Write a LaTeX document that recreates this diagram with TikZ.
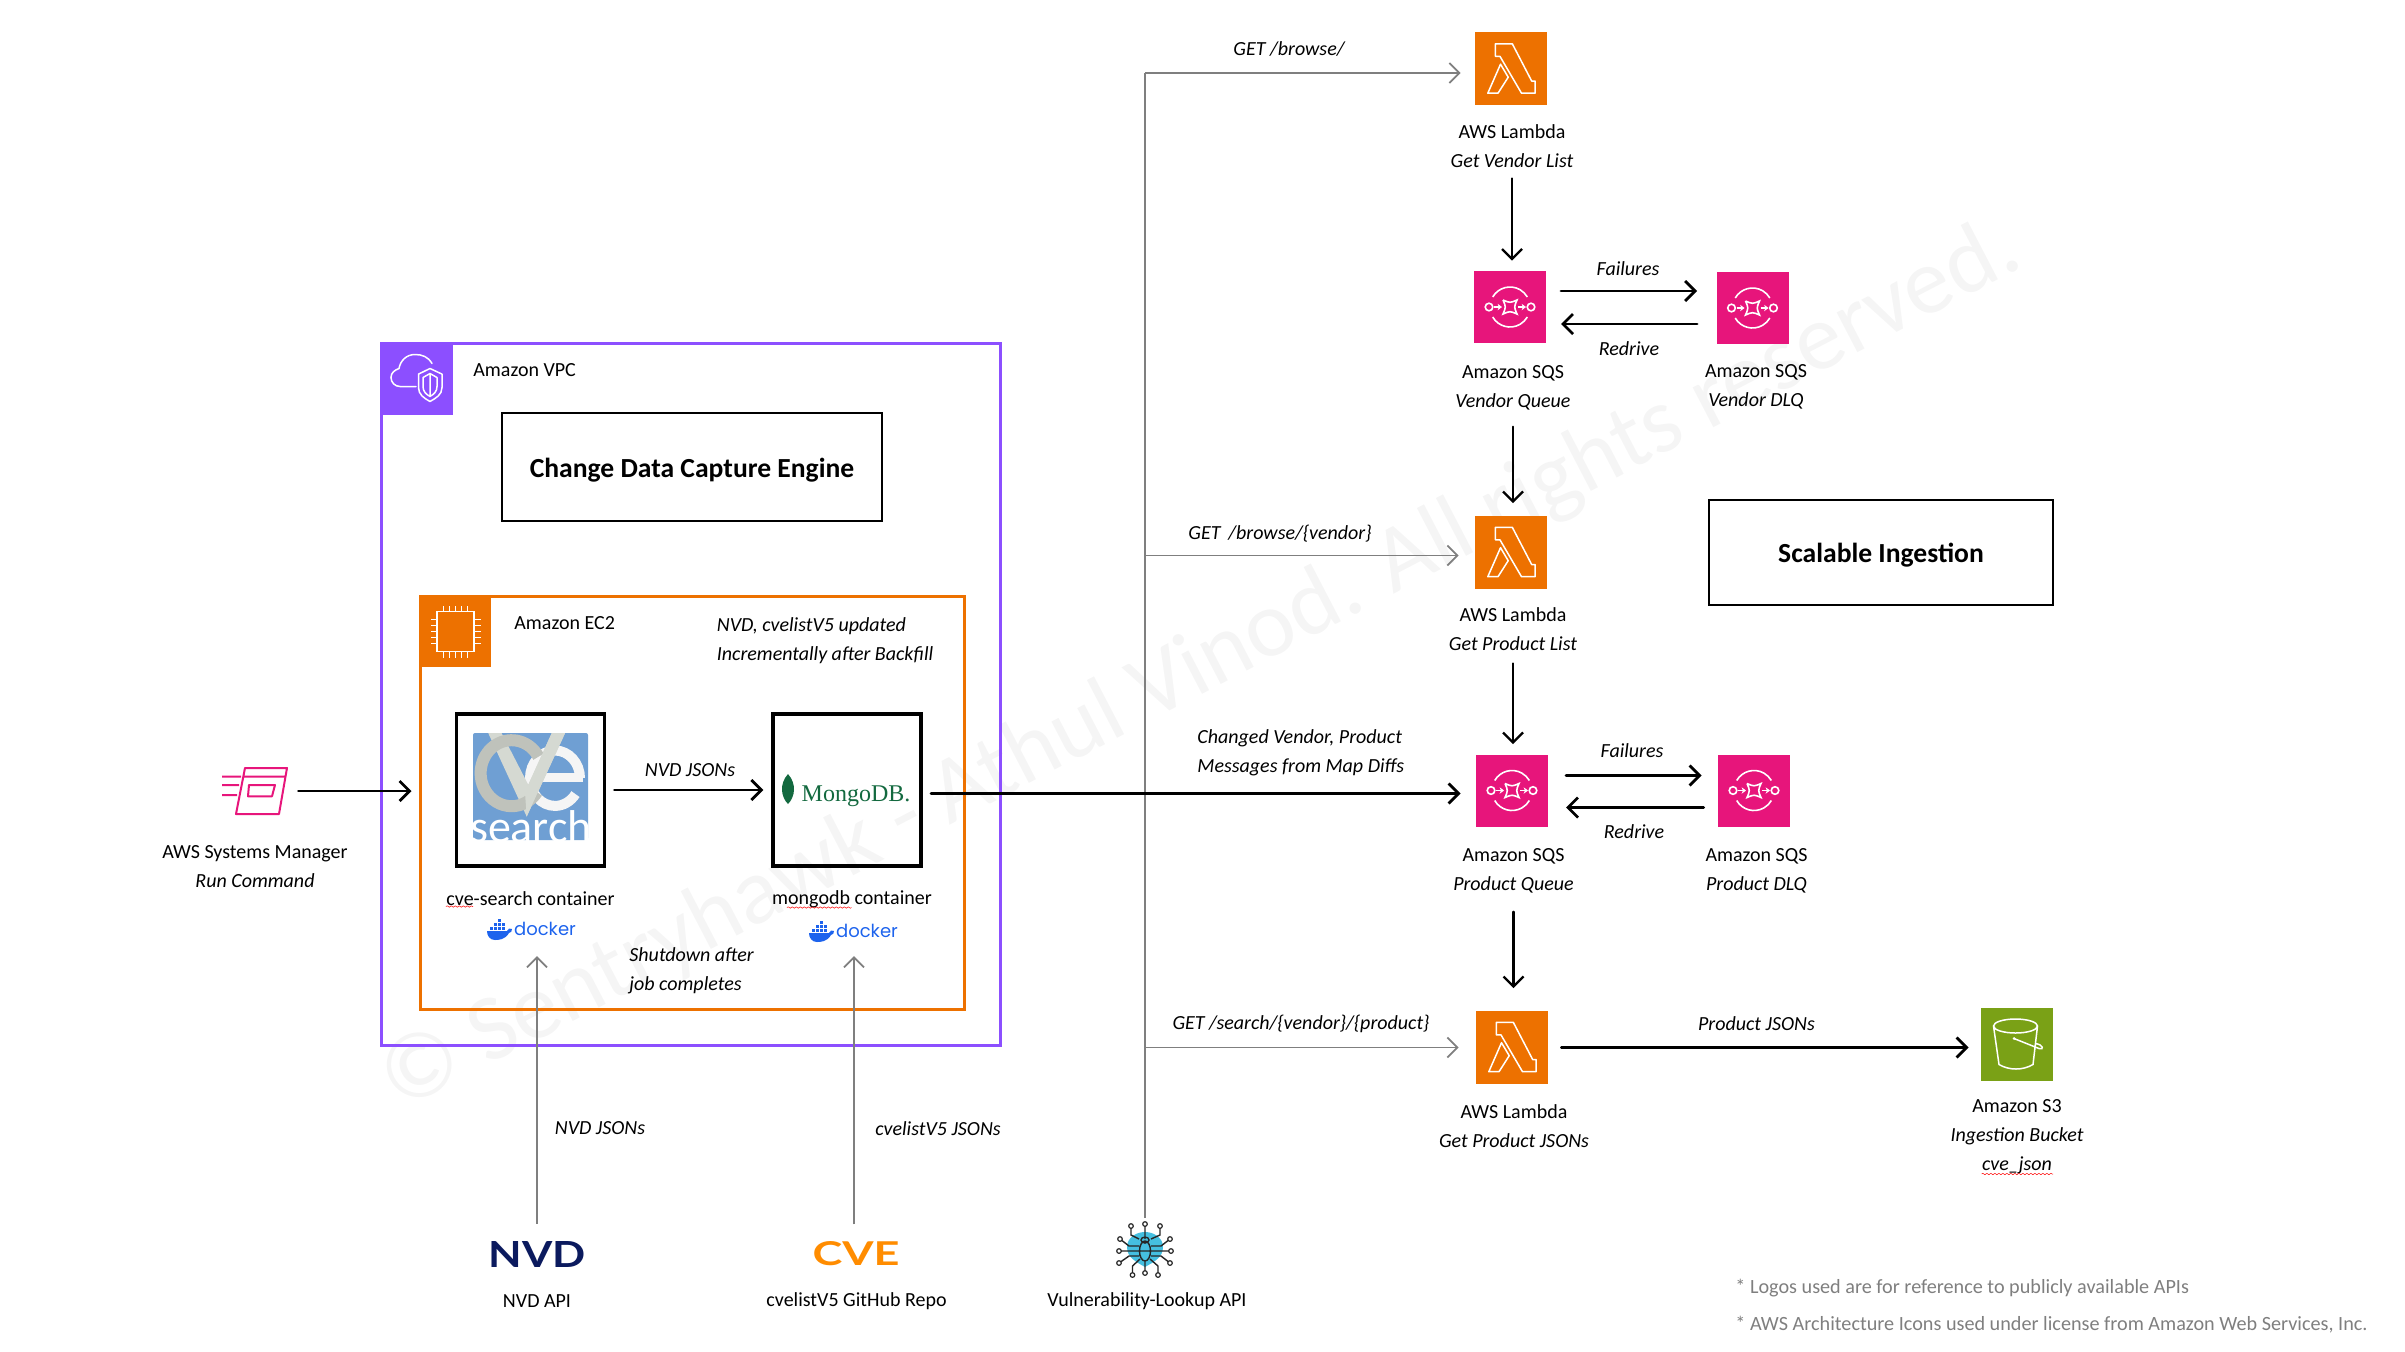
\documentclass[tikz,border=0pt]{standalone}
\usepackage{fontspec}
\setmainfont{Carlito}
\usetikzlibrary{arrows.meta}
\usetikzlibrary{decorations.pathmorphing}
\definecolor{awsorange}{HTML}{ED7100}
\definecolor{awspink}{HTML}{E7157B}
\definecolor{awspurple}{HTML}{8C4FFF}
\definecolor{awsgreen}{HTML}{7AA116}
\definecolor{apigrey}{HTML}{7F7F7F}
\definecolor{cveblue}{HTML}{6F9FD3}
\definecolor{cvering}{HTML}{BFC2BB}
\definecolor{cvevee}{HTML}{D5D9D2}
\definecolor{dockerblue}{HTML}{1D63ED}
\definecolor{mongogreen}{HTML}{13693F}
\definecolor{nvdnavy}{HTML}{0B1A5E}
\definecolor{bugblue}{HTML}{45BFE0}
\tikzstyle{lambda box}=[fill=awsorange, minimum width=36pt, minimum height=36.5pt, inner sep=0]
\tikzstyle{sqs box}=[fill=awspink, minimum width=36pt, minimum height=36pt, inner sep=0]
\tikzstyle{title box}=[draw, line width=1pt, inner sep=0, font=\fontsize{13.8}{15}\selectfont\bfseries]
\tikzstyle{container}=[draw, line width=1.6pt, inner sep=0, minimum width=74pt, minimum height=76pt]
\tikzstyle{caption}=[inner sep=0, align=center, font=\fontsize{10}{14.5}\selectfont]
\tikzstyle{note}=[inner sep=0, align=left, font=\fontsize{10}{14.5}\selectfont\itshape]
\tikzstyle{flow}=[line width=1.4pt, line cap=round, -{Straight Barb[length=5pt, width=10pt, line width=1.4pt]}]
\tikzstyle{down flow}=[line width=1.15pt, line cap=round, -{Straight Barb[length=5pt, width=10pt, line width=1.15pt]}]
\tikzstyle{api}=[line width=0.9pt, apigrey, -{Straight Barb[length=5pt, width=10pt, line width=0.9pt]}]
\tikzstyle{squiggle}=[red, line width=0.25pt, decorate, decoration={snake, amplitude=0.35pt, segment length=2pt}]
\tikzset{
  lambda glyph/.pic={
    \draw[white, line width=0.75pt, line join=round]
      (-15.6,-24.7) -- (1.3,-24.7) -- (20.7,12.6) -- (24.2,12.6) -- (24.2,24.7) -- (10.5,24.7)
      -- (-11,-12.1) -- (-15.6,-12.1) -- cycle
      (-23.2,24.7) -- (-10.5,-4.3) -- (-2.8,8.7) -- (-13,24.7) -- cycle;
  },
  sqs glyph/.pic={
    \draw[white, line width=0.8pt]
      (-21,0) circle[radius=3.8] (21,0) circle[radius=3.8]
      (-17.3,-10) arc[start angle=210, end angle=330, radius=20]
      (-17.3,10) arc[start angle=150, end angle=30, radius=20]
      (-7,-7) .. controls (0,-4) .. (7,-7) .. controls (4,0) .. (7,7)
      .. controls (0,4) .. (-7,7) .. controls (-4,0) .. (-7,-7);
    \draw[white, line width=0.8pt, -{Stealth[length=2.2pt, width=3.2pt]}] (-16,0) -- (-8,0);
    \draw[white, line width=0.8pt, -{Stealth[length=2.2pt, width=3.2pt]}] (8,0) -- (16,0);
  },
  bucket glyph/.pic={
    \draw[white, line width=0.75pt]
      (-1.5,-18.5) ellipse[x radius=22, y radius=7]
      (-23.5,-18.5) -- (-18,20) .. controls (-8,26) and (6,26) .. (16,20) -- (20.5,-18.5)
      (-3,-6) -- (22,4) .. controls (27,6) and (27,0) .. (18,-1);
    \fill[white] (-3,-6) circle[radius=1.5];
  },
  chip glyph/.pic={
    \draw[white, line width=0.9pt] (-18.5,-20) rectangle (18.5,20);
    \foreach \p in {-12,-6,0,6,12} {
      \draw[white, line width=0.7pt] (\p,-20) -- (\p,-26) (\p,20) -- (\p,26)
        (-18.5,\p) -- (-25,\p) (18.5,\p) -- (25,\p);
    }
  },
  vpc glyph/.pic={
    \draw[white, line width=0.75pt, line cap=round]
      (-1,8) -- (-17,8) to[out=180, in=270] (-26,-1) to[out=90, in=200] (-18,-10)
      to[out=80, in=180] (-2,-24) to[out=0, in=120] (15,-15);
    \draw[white, line width=0.75pt, line join=round]
      (13,-10) -- (25,-4.4) -- (25,9) to[out=270, in=30] (13,23) to[out=150, in=270] (1.5,9)
      -- (1.5,-4.4) -- cycle
      (13,-5) -- (20,-1) -- (20,8) to[out=270, in=30] (13,18) to[out=150, in=270] (6,8)
      -- (6,-1) -- cycle
      (13,-5) -- (13,18);
  },
  ssm glyph/.pic={
    \draw[awspink, line width=1pt, line join=round]
      (-9,-23) -- (33,-23) -- (25,23) -- (-18,23) -- cycle
      (-10,-14.5) -- (31,-14.5)
      (-5,-6) -- (21,-6) -- (18,5.3) -- (-6,5.3) -- cycle
      (-32,-14.5) -- (-13,-14.5) (-32,-6) -- (-15,-6) (-32,4) -- (-17,4);
  },
  docker mark/.pic={
    \fill[dockerblue] (-12,1) -- (8,1) .. controls (9,-1) and (11,-3) .. (13,-1) .. controls (13,1) and (12,3) .. (10,3)
      .. controls (6,10) and (-1,10) .. (-4,10) .. controls (-9,10) and (-12,6) .. (-12,1);
    \foreach \p/\q in {-9/-3, -5/-3, -1/-3, 3/-3, -5/-7, -1/-7, 3/-7, -1/-11} {
      \fill[dockerblue] (\p,\q) rectangle +(3.2,3.2);
    }
  },
  leaf glyph/.pic={
    \fill[mongogreen] (0,-15) .. controls (9,-5) and (7,8) .. (0,15) .. controls (-7,8) and (-9,-5) .. (0,-15);
  },
  bug glyph/.pic={
    \fill[bugblue] (0,-17) to[out=0, in=90] (18,-2) to[out=270, in=30] (0,18) to[out=150, in=270]
      (-18,-2) to[out=90, in=180] cycle;
    \draw[black!85, line width=0.7pt]
      (-14,-23) -- (-14,-14) -- (-6,-10) (0,-25) -- (0,-10) (15,-23) -- (15,-14) -- (6,-10)
      (-12.5,26) -- (-12.5,17) -- (-5,10) (0,24) -- (0,12) (13,26) -- (13,17) -- (5,10)
      (-25,-10) -- (-16,-3) -- (-6,-3) (25,-10) -- (16,-3) -- (6,-3)
      (-26,2) -- (26,2)
      (-26,14) -- (-16,7) -- (-6,7) (25,14) -- (16,7) -- (6,7)
      (0,2) ellipse[x radius=5.5, y radius=10]
      (0,-9) ellipse[x radius=4, y radius=3];
    \foreach \p/\q in {-14/-23, 0/-25, 15/-23, -12.5/26, 0/24, 13/26, -25/-10, 25/-10, -26/2, 26/2, -26/14, 25/14} {
      \draw[black!85, fill=white, line width=0.6pt] (\p,\q) circle[radius=2.3];
    }
  },
  cve art/.pic={
    \draw[white!92!gray, line width=5pt] (49.5,-8.3) arc[start angle=0, end angle=-325, x radius=25, y radius=27.7];
    \draw[white!92!gray, line width=4.5pt] (-2,-9) -- (52,-9);
    \fill[cvevee] (-42.2,-53.3) -- (-3.8,30) -- (34.5,-53.3) -- (21.2,-53.3) -- (-2.2,-1.7) -- (-28.8,-53.3) -- cycle;
    \draw[cvering, line width=6pt] (8,-29.8) arc[start angle=-30, end angle=-325, x radius=31, y radius=33];
    \fill[cvevee] (-3.8,30) -- (34.5,-53.3) -- (21.2,-53.3) -- (-2.2,-1.7) -- (-6,-1) -- cycle;
  }
}
\begin{document}
\begin{tikzpicture}[x=0.5pt, y=-0.5pt]
  \useasboundingbox (0,0) rectangle (2405,1351);
  \node[rotate=27.5, text=black!4, inner sep=0, font=\fontsize{47}{50}\selectfont] (watermark) at (1201,667)
    {© Sentryhawk - Athul Vinod. All rights reserved.};

  \node[draw=awspurple, line width=1.5pt, minimum width=309.5pt, minimum height=351pt, inner sep=0] (vpc) at (690.5,694) {};
  \node[fill=awspurple, minimum width=36pt, minimum height=36pt, inner sep=0] (vpc_icon) at (417,378.5) {};
  \pic at (vpc_icon) {vpc glyph};
  \node[caption, anchor=west] (vpc_text) at (473,370) {Amazon VPC};
  \node[title box, minimum width=190pt, minimum height=54pt] (cdc) at (692,467) {};
  \node[inner sep=0, font=\fontsize{13.8}{15}\selectfont\bfseries] (cdc_text) at (692,470) {Change Data Capture Engine};

  \node[draw=awsorange, line width=1.5pt, minimum width=272pt, minimum height=206.5pt, inner sep=0] (ec2) at (692,802.5) {};
  \node[fill=awsorange, minimum width=35.5pt, minimum height=35.5pt, inner sep=0] (ec2_icon) at (455.5,631.5) {};
  \pic at (ec2_icon) {chip glyph};
  \node[caption, anchor=west] (ec2_text) at (514,623) {Amazon EC2};
  \node[note, anchor=west] (backfill_text) at (716.5,640.5) {NVD, cvelistV5 updated\\Incrementally after Backfill};

  \node[container] (cve) at (530.75,790) {};
  \node[fill=cveblue, rounded corners=1pt, minimum width=57.5pt, minimum height=53.5pt, inner sep=0] (cve_logo) at (530.5,786.5) {};
  \begin{scope}
    \clip (cve_logo.north west) rectangle (cve_logo.south east);
    \pic at (cve_logo) {cve art};
  \end{scope}
  \node[inner sep=0, text=white, font=\fontsize{23}{23}\selectfont] (cve_word) at (531,827) {search};
  \node[caption] (cve_text) at (530.5,898.5) {cve-search container};
  \draw[squiggle] (446,906.5) -- (473,906.5);
  \coordinate (cve_dock) at (499,930);
  \pic at (cve_dock) {docker mark};
  \node[inner sep=0, text=dockerblue, font=\fontsize{9}{9}\selectfont\fontspec{Poppins}] (cve_docker) at (545,929) {docker};

  \node[container] (mongo) at (847,790) {};
  \coordinate (leaf) at (788,789);
  \pic at (leaf) {leaf glyph};
  \node[inner sep=0, text=mongogreen, font=\fontsize{12}{12}\selectfont\fontspec{Liberation Serif}] (mongo_word) at (856,796) {MongoDB.};
  \node[caption] (mongo_text) at (852,899.5) {mongodb container};
  \draw[squiggle] (787,907.5) -- (851.5,907.5);
  \coordinate (mongo_dock) at (821,932);
  \pic at (mongo_dock) {docker mark};
  \node[inner sep=0, text=dockerblue, font=\fontsize{9}{9}\selectfont\fontspec{Poppins}] (mongo_docker) at (867,931) {docker};
  \node[note, anchor=west] (shutdown_text) at (629,971) {Shutdown after\\job completes};

  \node[minimum width=44pt, minimum height=24pt, inner sep=0] (ssm) at (254,791) {};
  \pic at (ssm) {ssm glyph};
  \node[caption] (ssm_text) at (255,867) {AWS Systems Manager\\\textit{Run Command}};
  \draw[flow, shorten >=3.5pt] (ssm.east) -- (ssm.east -| ec2.west);

  \draw[flow, shorten >=4pt, shorten <=4pt] (cve.east) -- (mongo.west);
  \node[note] (cve_mongo_text) at (690,770.5) {NVD JSONs};

  \coordinate (nvd_tip) at (537,956);
  \coordinate (cvelist_tip) at (854,956);
  \node[inner sep=0, text=nvdnavy] (nvd) at (537,1254) {\resizebox{48.5pt}{13pt}{\fontspec{Lato}\bfseries NVD}};
  \node[caption] (nvd_text) at (537,1301.5) {NVD API};
  \draw[api, shorten <=8.5pt] (nvd.north) -- (nvd_tip);
  \node[inner sep=0, text=orange!90!yellow] (cvelist) at (856,1254) {\resizebox{43.5pt}{12pt}{\fontspec{Lato}\bfseries CVE}};
  \node[caption] (cvelist_text) at (856.5,1301.5) {cvelistV5 GitHub Repo};
  \draw[api, shorten <=8.5pt] (cvelist.north -| cvelist_tip) -- (cvelist_tip);
  \node[note] (nvd_api_text) at (600,1128.5) {NVD JSONs};
  \node[note] (cvelist_api_text) at (938,1128.5) {cvelistV5 JSONs};

  \node[minimum size=20pt, inner sep=0] (bug) at (1145,1249) {};
  \pic at (bug) {bug glyph};
  \node[caption] (bug_text) at (1147,1301.5) {Vulnerability-Lookup API};

  \coordinate (trunk_top) at (1145,73);
  \coordinate (trunk_vendor) at (1145,555.5);
  \coordinate (trunk_search) at (1145,1047.5);
  \coordinate (mongo_out) at (921,793.5);

  \node[lambda box] (lambda1) at (1511,68.5) {};
  \pic at (lambda1) {lambda glyph};
  \node[caption] (lambda1_text) at (1512,146.5) {AWS Lambda\\\textit{Get Vendor List}};
  \node[sqs box] (sqs1) at (1510,307) {};
  \pic at (sqs1) {sqs glyph};
  \node[caption] (sqs1_text) at (1513,388) {Amazon SQS\\\textit{Vendor Queue}};
  \node[sqs box] (dlq1) at (1752.5,308) {};
  \pic at (dlq1) {sqs glyph};
  \node[caption] (dlq1_text) at (1756,387) {Amazon SQS\\\textit{Vendor DLQ}};
  \node[lambda box] (lambda2) at (1511,552) {};
  \pic at (lambda2) {lambda glyph};
  \node[caption] (lambda2_text) at (1513,629.5) {AWS Lambda\\\textit{Get Product List}};
  \node[title box, minimum width=172pt, minimum height=52.5pt] (ingest) at (1881,552) {};
  \node[inner sep=0, font=\fontsize{13.8}{15}\selectfont\bfseries] (ingest_text) at (1881,555) {Scalable Ingestion};

  \node[sqs box] (sqs2) at (1512,790.5) {};
  \pic at (sqs2) {sqs glyph};
  \node[caption] (sqs2_text) at (1513.5,871) {Amazon SQS\\\textit{Product Queue}};
  \node[sqs box] (dlq2) at (1754,790.5) {};
  \pic at (dlq2) {sqs glyph};
  \node[caption] (dlq2_text) at (1756.5,871) {Amazon SQS\\\textit{Product DLQ}};
  \node[lambda box] (lambda3) at (1512,1047) {};
  \pic at (lambda3) {lambda glyph};
  \node[caption] (lambda3_text) at (1514,1126) {AWS Lambda\\\textit{Get Product JSONs}};
  \node[fill=awsgreen, minimum width=36pt, minimum height=36.5pt, inner sep=0] (s3) at (2017,1044.5) {};
  \pic at (s3) {bucket glyph};
  \node[caption] (s3_text) at (2017,1137) {Amazon S3\\\textit{Ingestion Bucket}\\\textit{cve\_json}};
  \draw[squiggle] (1981.6,1174) -- (2053,1174);

  \draw[api, -, shorten <=5.5pt] (bug.north) -- (trunk_top);
  \draw[api, shorten >=7pt] (trunk_top) -- (trunk_top -| lambda1.west);
  \draw[api, shorten >=8pt] (trunk_vendor) -- (trunk_vendor -| lambda2.west);
  \draw[api, shorten >=8.5pt] (trunk_search) -- (trunk_search -| lambda3.west);
  \node[note] (browse_text) at (1289,49) {GET /browse/};
  \node[note] (vendor_text) at (1280,534) {GET\, /browse/\{vendor\}};
  \node[note] (search_text) at (1301,1024) {GET /search/\{vendor\}/\{product\}};
  \node[note, anchor=west] (changed_text) at (1197,752.5) {Changed Vendor, Product\\Messages from Map Diffs};

  \draw[flow, shorten <=5pt, shorten >=7.5pt] (mongo_out) -- (mongo_out -| sqs2.west);
  \draw[down flow, shorten <=5pt, shorten >=5pt] (lambda1_text.south) -- (lambda1_text.south |- sqs1.north);
  \draw[down flow, shorten <=8pt, shorten >=6pt] (sqs1_text.south) -- (sqs1_text.south |- lambda2.north);
  \draw[down flow, shorten <=6pt, shorten >=5pt] (lambda2_text.south) -- (lambda2_text.south |- sqs2.north);
  \draw[down flow, shorten <=9pt, shorten >=11pt] (sqs2_text.south) -- (sqs2_text.south |- lambda3.north);
  \coordinate (fail1) at (1546,291);
  \coordinate (redrive1) at (1546,324);
  \coordinate (fail2) at (1548,775.5);
  \coordinate (redrive2) at (1548,807.5);
  \draw[flow, shorten <=7.5pt, shorten >=9.5pt] (fail1) -- (fail1 -| dlq1.west);
  \draw[flow, shorten <=9.5pt, shorten >=7.5pt] (redrive1 -| dlq1.west) -- (redrive1);
  \draw[flow, shorten <=9pt, shorten >=8pt] (fail2) -- (fail2 -| dlq2.west);
  \draw[flow, shorten <=7pt, shorten >=9pt] (redrive2 -| dlq2.west) -- (redrive2);
  \draw[flow, shorten <=6.5pt, shorten >=6pt] (lambda3.east |- trunk_search) -- (trunk_search -| s3.west);
  \node[note] (fail1_text) at (1628,269) {Failures};
  \node[note] (redrive1_text) at (1629,349) {Redrive};
  \node[note] (fail2_text) at (1632,751) {Failures};
  \node[note] (redrive2_text) at (1634,832) {Redrive};
  \node[note] (s3_flow_text) at (1756.5,1024) {Product JSONs};

  \node[inner sep=0, anchor=west, text=apigrey, font=\fontsize{10.1}{10}\selectfont] (logos_text) at (1735,1288.5) {* Logos used are for reference to publicly available APIs};
  \node[inner sep=0, anchor=west, text=apigrey, font=\fontsize{10.1}{10}\selectfont] (icons_text) at (1735,1324.5) {* AWS Architecture Icons used under license from Amazon Web Services, Inc.};
\end{tikzpicture}
\end{document}
